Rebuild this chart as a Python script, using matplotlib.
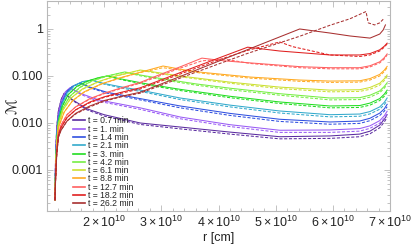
import matplotlib
matplotlib.use("Agg")
import matplotlib.pyplot as plt
from matplotlib.ticker import FixedLocator, FixedFormatter, NullFormatter

plt.rcParams['font.family'] = ['Liberation Sans', 'DejaVu Sans']
plt.rcParams['mathtext.fontset'] = 'custom'
plt.rcParams['mathtext.rm'] = 'Liberation Sans'
plt.rcParams['mathtext.it'] = 'Liberation Sans:italic'

# ---------------- data (r in units of 1e10 cm, Mach number) ----------------
labels = ["t = 0.7 min", "t = 1. min", "t = 1.4 min", "t = 2.1 min", "t = 3. min",
          "t = 4.2 min", "t = 6.1 min", "t = 8.8 min", "t = 12.7 min",
          "t = 18.2 min", "t = 26.2 min"]
colors = ['#5b2ca0', '#9a5cf5', '#3050e0', '#33aacc', '#22dd22', '#77ee44',
          '#cce033', '#ffaa22', '#ff6060', '#e02020', '#a83030']

r_07 = [1.14, 1.15, 1.17, 1.20, 1.25, 1.30, 1.45, 1.70, 2.00, 2.63, 3.33, 4.20, 5.07, 5.95, 6.47, 6.65, 6.82, 6.90, 6.95]
s_07 = [2.3e-4, 2.0e-3, 8.0e-3, 1.8e-2, 3.2e-2, 4.3e-2, 3.1e-2, 2.0e-2, 1.5e-2, 1.0e-2, 8.2e-3, 6.4e-3, 5.1e-3, 5.3e-3, 5.8e-3, 6.7e-3, 9.0e-3, 1.2e-2, 1.5e-2]
d_07 = [2.3e-4, 2.0e-3, 8.0e-3, 1.8e-2, 3.2e-2, 4.2e-2, 3.0e-2, 1.9e-2, 1.4e-2, 9.3e-3, 7.5e-3, 5.8e-3, 4.6e-3, 4.7e-3, 5.1e-3, 5.9e-3, 7.9e-3, 1.05e-2, 1.32e-2]

r_10 = [1.14, 1.15, 1.17, 1.20, 1.25, 1.32, 1.40, 1.60, 1.90, 2.63, 3.33, 4.20, 5.07, 5.95, 6.47, 6.65, 6.82, 6.90, 6.95]
s_10 = [2.3e-4, 1.6e-3, 6.5e-3, 1.5e-2, 2.9e-2, 4.6e-2, 5.6e-2, 4.2e-2, 3.1e-2, 2.1e-2, 1.34e-2, 9.2e-3, 7.0e-3, 7.1e-3, 7.6e-3, 8.7e-3, 1.12e-2, 1.42e-2, 1.78e-2]
d_10 = [2.3e-4, 1.6e-3, 6.5e-3, 1.5e-2, 2.9e-2, 4.5e-2, 5.5e-2, 4.0e-2, 2.9e-2, 1.95e-2, 1.23e-2, 8.4e-3, 6.3e-3, 6.3e-3, 6.7e-3, 7.7e-3, 9.9e-3, 1.26e-2, 1.58e-2]

r_14 = [1.14, 1.15, 1.17, 1.20, 1.26, 1.34, 1.44, 1.58, 1.75, 2.05, 2.63, 3.33, 4.20, 5.07, 5.95, 6.47, 6.65, 6.82, 6.90, 6.95]
s_14 = [2.3e-4, 1.4e-3, 5.5e-3, 1.3e-2, 2.7e-2, 4.5e-2, 6.0e-2, 7.1e-2, 5.8e-2, 4.5e-2, 3.3e-2, 2.3e-2, 1.6e-2, 1.2e-2, 1.05e-2, 1.1e-2, 1.26e-2, 1.62e-2, 2.0e-2, 2.5e-2]
d_14 = [2.3e-4, 1.4e-3, 5.5e-3, 1.3e-2, 2.7e-2, 4.5e-2, 5.9e-2, 7.0e-2, 5.6e-2, 4.3e-2, 3.1e-2, 2.1e-2, 1.45e-2, 1.08e-2, 9.4e-3, 9.8e-3, 1.12e-2, 1.44e-2, 1.78e-2, 2.22e-2]

r_21 = [1.14, 1.15, 1.17, 1.20, 1.26, 1.35, 1.48, 1.62, 1.79, 2.00, 2.35, 2.63, 3.33, 4.20, 5.07, 5.95, 6.47, 6.65, 6.82, 6.90, 6.95]
s_21 = [2.3e-4, 1.2e-3, 4.8e-3, 1.2e-2, 2.5e-2, 4.3e-2, 6.3e-2, 7.6e-2, 8.2e-2, 6.9e-2, 5.7e-2, 5.0e-2, 3.4e-2, 2.4e-2, 1.8e-2, 1.5e-2, 1.55e-2, 1.75e-2, 2.2e-2, 2.75e-2, 3.4e-2]
d_21 = [2.3e-4, 1.2e-3, 4.8e-3, 1.2e-2, 2.5e-2, 4.3e-2, 6.2e-2, 7.5e-2, 8.1e-2, 6.7e-2, 5.4e-2, 4.7e-2, 3.15e-2, 2.2e-2, 1.63e-2, 1.35e-2, 1.39e-2, 1.56e-2, 1.96e-2, 2.45e-2, 3.0e-2]

r_30 = [1.14, 1.15, 1.17, 1.20, 1.27, 1.37, 1.52, 1.72, 1.90, 2.05, 2.35, 2.80, 3.33, 4.20, 5.07, 5.95, 6.47, 6.65, 6.82, 6.90, 6.95]
s_30 = [2.3e-4, 1.1e-3, 4.2e-3, 1.1e-2, 2.3e-2, 4.0e-2, 6.0e-2, 7.9e-2, 9.2e-2, 1.0e-1, 8.4e-2, 6.6e-2, 5.2e-2, 3.7e-2, 2.8e-2, 2.3e-2, 2.35e-2, 2.65e-2, 3.3e-2, 4.1e-2, 5.0e-2]
d_30 = [2.3e-4, 1.1e-3, 4.2e-3, 1.1e-2, 2.3e-2, 4.0e-2, 5.9e-2, 7.8e-2, 9.1e-2, 9.9e-2, 8.1e-2, 6.3e-2, 4.9e-2, 3.45e-2, 2.6e-2, 2.1e-2, 2.14e-2, 2.4e-2, 3.0e-2, 3.7e-2, 4.5e-2]

r_42 = [1.14, 1.15, 1.17, 1.20, 1.28, 1.40, 1.58, 1.80, 2.05, 2.36, 2.63, 3.00, 3.60, 4.20, 5.07, 5.95, 6.47, 6.65, 6.82, 6.90, 6.95]
s_42 = [2.3e-4, 1.0e-3, 3.8e-3, 1.0e-2, 2.1e-2, 3.7e-2, 5.8e-2, 8.0e-2, 1.0e-1, 1.22e-1, 1.05e-1, 8.8e-2, 6.8e-2, 5.5e-2, 4.2e-2, 3.4e-2, 3.45e-2, 3.9e-2, 4.8e-2, 6.0e-2, 7.2e-2]
d_42 = [2.3e-4, 1.0e-3, 3.8e-3, 1.0e-2, 2.1e-2, 3.7e-2, 5.7e-2, 7.9e-2, 9.9e-2, 1.2e-1, 1.01e-1, 8.4e-2, 6.4e-2, 5.1e-2, 3.9e-2, 3.1e-2, 3.15e-2, 3.55e-2, 4.4e-2, 5.5e-2, 6.6e-2]

r_61 = [1.14, 1.15, 1.17, 1.20, 1.28, 1.42, 1.62, 1.90, 2.20, 2.63, 2.90, 3.33, 4.20, 5.07, 5.95, 6.47, 6.65, 6.82, 6.90, 6.95]
s_61 = [2.3e-4, 9.0e-4, 3.4e-3, 9.0e-3, 1.9e-2, 3.4e-2, 5.3e-2, 7.6e-2, 1.0e-1, 1.34e-1, 1.2e-1, 1.0e-1, 7.4e-2, 5.8e-2, 5.0e-2, 5.1e-2, 5.7e-2, 7.0e-2, 8.7e-2, 1.05e-1]
d_61 = [2.3e-4, 9.0e-4, 3.4e-3, 9.0e-3, 1.9e-2, 3.4e-2, 5.2e-2, 7.5e-2, 9.9e-2, 1.32e-1, 1.16e-1, 9.6e-2, 7.0e-2, 5.4e-2, 4.6e-2, 4.7e-2, 5.2e-2, 6.4e-2, 8.0e-2, 9.7e-2]

r_88 = [1.14, 1.15, 1.17, 1.20, 1.30, 1.45, 1.65, 1.95, 2.30, 2.63, 3.03, 3.40, 3.70, 4.55, 5.42, 5.95, 6.47, 6.65, 6.82, 6.90, 6.95]
s_88 = [2.3e-4, 8.0e-4, 3.0e-3, 8.0e-3, 1.7e-2, 3.0e-2, 4.6e-2, 6.8e-2, 9.3e-2, 1.2e-1, 1.63e-1, 1.35e-1, 1.2e-1, 9.5e-2, 8.2e-2, 7.8e-2, 7.9e-2, 8.8e-2, 1.08e-1, 1.33e-1, 1.6e-1]
d_88 = [2.3e-4, 8.0e-4, 3.0e-3, 8.0e-3, 1.7e-2, 3.0e-2, 4.5e-2, 6.7e-2, 9.2e-2, 1.18e-1, 1.5e-1, 1.3e-1, 1.15e-1, 9.0e-2, 7.7e-2, 7.3e-2, 7.4e-2, 8.2e-2, 1.0e-1, 1.24e-1, 1.5e-1]

r_127 = [1.14, 1.15, 1.17, 1.20, 1.245, 1.35, 1.50, 1.75, 2.00, 2.30, 2.63, 3.00, 3.35, 3.71, 4.10, 4.55, 5.42, 5.95, 6.47, 6.65, 6.82, 6.90, 6.95]
s_127 = [2.3e-4, 7.0e-4, 2.5e-3, 6.0e-3, 9.0e-3, 1.5e-2, 2.2e-2, 3.3e-2, 4.3e-2, 5.6e-2, 7.3e-2, 1.1e-1, 1.6e-1, 2.4e-1, 2.1e-1, 1.9e-1, 1.58e-1, 1.5e-1, 1.5e-1, 1.65e-1, 2.0e-1, 2.45e-1, 2.95e-1]
d_127 = [2.3e-4, 7.0e-4, 2.5e-3, 6.0e-3, 9.0e-3, 1.5e-2, 2.2e-2, 3.2e-2, 4.2e-2, 5.4e-2, 7.0e-2, 1.04e-1, 1.5e-1, 2.1e-1, 2.3e-1, 1.85e-1, 1.5e-1, 1.42e-1, 1.42e-1, 1.56e-1, 1.9e-1, 2.3e-1, 2.8e-1]

r_182 = [1.14, 1.15, 1.17, 1.20, 1.245, 1.35, 1.50, 1.75, 2.00, 2.30, 2.63, 3.33, 4.00, 4.51, 5.07, 5.95, 6.47, 6.65, 6.82, 6.90, 6.95]
s_182 = [2.3e-4, 6.5e-4, 2.3e-3, 5.5e-3, 8.0e-3, 1.3e-2, 1.9e-2, 2.8e-2, 3.6e-2, 4.5e-2, 5.6e-2, 1.18e-1, 2.4e-1, 4.1e-1, 3.4e-1, 2.8e-1, 2.8e-1, 3.0e-1, 3.6e-1, 4.3e-1, 5.0e-1]
r_182d = [1.14, 1.15, 1.17, 1.20, 1.245, 1.35, 1.50, 1.75, 2.00, 2.30, 2.63, 3.33, 4.00, 4.51, 5.07, 5.30, 5.95, 6.47, 6.65, 6.82, 6.90, 6.95]
d_182 = [2.3e-4, 6.5e-4, 2.3e-3, 5.5e-3, 8.0e-3, 1.3e-2, 1.9e-2, 2.7e-2, 3.5e-2, 4.3e-2, 5.3e-2, 1.1e-1, 2.2e-1, 3.5e-1, 5.3e-1, 4.2e-1, 2.8e-1, 2.6e-1, 2.8e-1, 3.4e-1, 4.1e-1, 4.8e-1]

r_262 = [1.14, 1.15, 1.17, 1.20, 1.245, 1.35, 1.50, 1.75, 2.00, 2.30, 2.63, 3.50, 4.50, 5.42, 5.95, 6.30, 6.65, 6.82, 6.88, 6.92]
s_262 = [2.3e-4, 6.0e-4, 2.1e-3, 5.0e-3, 7.0e-3, 1.1e-2, 1.6e-2, 2.3e-2, 3.0e-2, 3.7e-2, 4.5e-2, 1.18e-1, 3.6e-1, 1.0, 8.2e-1, 7.1e-1, 6.4e-1, 7.8e-1, 9.5e-1, 1.22]
r_262d = [1.14, 1.15, 1.17, 1.20, 1.245, 1.35, 1.50, 1.75, 2.00, 2.30, 2.63, 3.50, 4.50, 5.42, 5.95, 6.30, 6.58, 6.62, 6.73, 6.82, 6.90]
d_262 = [2.3e-4, 6.0e-4, 2.1e-3, 5.0e-3, 7.0e-3, 1.1e-2, 1.55e-2, 2.2e-2, 2.9e-2, 3.6e-2, 4.3e-2, 1.08e-1, 3.0e-1, 7.0e-1, 1.2, 1.65, 2.35, 1.35, 1.22, 1.35, 1.7]

solid_r = [r_07, r_10, r_14, r_21, r_30, r_42, r_61, r_88, r_127, r_182, r_262]
solid_M = [s_07, s_10, s_14, s_21, s_30, s_42, s_61, s_88, s_127, s_182, s_262]
dash_r = [r_07, r_10, r_14, r_21, r_30, r_42, r_61, r_88, r_127, r_182d, r_262d]
dash_M = [d_07, d_10, d_14, d_21, d_30, d_42, d_61, d_88, d_127, d_182, d_262]

x_ticks = [2, 3, 4, 5, 6, 7]
x_ticklabels = [r'$2\times10^{10}$', r'$3\times10^{10}$', r'$4\times10^{10}$',
                r'$5\times10^{10}$', r'$6\times10^{10}$', r'$7\times10^{10}$']
y_ticks = [1e-3, 1e-2, 1e-1, 1]
y_ticklabels = ['0.001', '0.010', '0.100', '1']

# ---------------- figure ----------------
W, H = 411, 244
fig = plt.figure(figsize=(W / 100, H / 100), dpi=100)
ax = fig.add_axes([47 / W, 1 - 211 / H, 343 / W, 210 / H])

UNIT = 1e10
for rs, ms, rd, md, c, lab in zip(solid_r, solid_M, dash_r, dash_M, colors, labels):
    ax.plot([v * UNIT for v in rs], ms, color=c, lw=0.75, label=lab)
    ax.plot([v * UNIT for v in rd], md, color=c, lw=0.75, ls=(0, (3, 1.6)))

ax.set_yscale('log')
ax.set_xlim(1.0 * UNIT, 7.0 * UNIT)
ax.set_ylim(1.34e-4, 3.94)

frame_c = '#b8b8b8'
for s in ax.spines.values():
    s.set_color(frame_c)
    s.set_linewidth(0.8)

ax.xaxis.set_major_locator(FixedLocator([v * UNIT for v in x_ticks]))
ax.xaxis.set_major_formatter(FixedFormatter(x_ticklabels))
ax.xaxis.set_minor_locator(FixedLocator([(1 + 0.2 * i) * UNIT for i in range(31)]))
ax.yaxis.set_major_locator(FixedLocator(y_ticks))
ax.yaxis.set_major_formatter(FixedFormatter(y_ticklabels))
minors = [m * 10.0 ** e for e in range(-4, 1) for m in range(2, 10)]
ax.yaxis.set_minor_locator(FixedLocator(minors))
ax.yaxis.set_minor_formatter(NullFormatter())
ax.tick_params(which='both', direction='in', top=True, right=True, color=frame_c,
               labelsize=9, labelcolor='#222222', width=0.6)
ax.tick_params(which='major', length=4, pad=3)
ax.tick_params(which='minor', length=2)

ax.set_xlabel('r [cm]', fontsize=9, color='#222222', labelpad=1)
ax.set_ylabel('\u2133', fontsize=10.5, color='#222222', family='DejaVu Sans')
ax.yaxis.set_label_coords(-0.082, 0.5)

leg = ax.legend(loc='lower left', bbox_to_anchor=(0.068, 0.0), fontsize=6.2,
                frameon=False, handlelength=1.4, handletextpad=0.3,
                labelspacing=-0.08, borderpad=0.3, borderaxespad=0.0)
for t in leg.get_texts():
    t.set_color('#222222')
for ln in leg.get_lines():
    ln.set_linewidth(1.2)

fig.savefig('out.png', dpi=100)
